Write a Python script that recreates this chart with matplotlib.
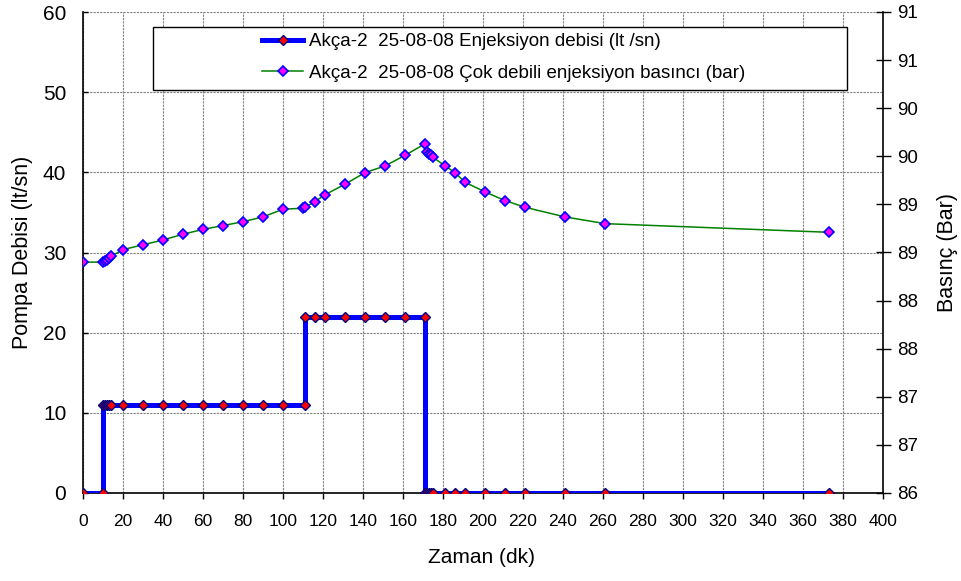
import math
import matplotlib
matplotlib.use("Agg")
import matplotlib.pyplot as plt
from matplotlib.ticker import MultipleLocator, FuncFormatter
from matplotlib.patches import Rectangle

plt.rcParams['font.family'] = ['Liberation Sans', 'DejaVu Sans']

# Injection flow (lt/sn) vs time (dk)
flow_t = [0, 10, 10, 11, 12, 13, 14, 20, 30, 40, 50, 60, 70, 80, 90, 100, 111,
          111, 116, 121, 131, 141, 151, 161, 171,
          171, 172, 173, 174, 175, 181, 186, 191, 201, 211, 221, 241, 261, 373]
flow_v = [0, 0, 11, 11, 11, 11, 11, 11, 11, 11, 11, 11, 11, 11, 11, 11, 11,
          22, 22, 22, 22, 22, 22, 22, 22,
          0, 0, 0, 0, 0, 0, 0, 0, 0, 0, 0, 0, 0, 0]

# Pressure (bar) vs time (dk)
pres_t = [0, 10, 11, 12, 13, 14, 20, 30, 40, 50, 60, 70, 80, 90, 100, 110, 111,
          116, 121, 131, 141, 151, 161, 171, 172, 173, 174, 175, 181, 186, 191,
          201, 211, 221, 241, 261, 373]
pres_v = [88.40, 88.40, 88.41, 88.42, 88.44, 88.46, 88.53, 88.58, 88.63, 88.69,
          88.74, 88.78, 88.82, 88.87, 88.95, 88.96, 88.97, 89.03, 89.10, 89.21,
          89.33, 89.40, 89.51, 89.63, 89.54, 89.52, 89.51, 89.49, 89.40, 89.33,
          89.23, 89.13, 89.04, 88.97, 88.87, 88.80, 88.71]

flow_label = "Akça-2  25-08-08 Enjeksiyon debisi (lt /sn)"
pres_label = "Akça-2  25-08-08 Çok debili enjeksiyon basıncı (bar)"

W, H = 961, 581
fig = plt.figure(figsize=(W / 100, H / 100), dpi=100)
L, R, T, B = 83, 883, 12, 493
ax = fig.add_axes([L / W, 1 - B / H, (R - L) / W, (B - T) / H])
ax2 = ax.twinx()

ax.set_xlim(0, 400)
ax.set_ylim(0, 60)
ax2.set_ylim(86, 91)

ax.xaxis.set_major_locator(MultipleLocator(20))
ax.yaxis.set_major_locator(MultipleLocator(10))
ax2.yaxis.set_major_locator(MultipleLocator(0.5))
ax2.yaxis.set_major_formatter(FuncFormatter(lambda v, p: f"{int(math.floor(v + 0.5 + 1e-9))}"))

grid_kw = dict(color='#7f7f7f', linestyle=(0, (2, 1)), linewidth=0.8)
ax.grid(True, which='major', **grid_kw)
ax.set_axisbelow(True)

(l1,) = ax.plot(flow_t, flow_v, color='#0000ff', linewidth=3.6, marker='D',
                markersize=5, markerfacecolor='#ff0000', markeredgecolor='#000080',
                markeredgewidth=1.0, label=flow_label, zorder=3)
(l2,) = ax2.plot(pres_t, pres_v, color='#008000', linewidth=1.1, marker='D',
                 markersize=5, markerfacecolor='#ff00ff', markeredgecolor='#0000ff',
                 markeredgewidth=1.2, label=pres_label, zorder=3)

for a in (ax, ax2):
    a.spines['top'].set_visible(False)
ax.spines['right'].set_visible(False)
ax2.spines['left'].set_visible(False)
ax2.spines['bottom'].set_visible(False)
for s in ('left', 'bottom'):
    ax.spines[s].set_linewidth(1.2)
ax2.spines['right'].set_linewidth(1.2)

ax.tick_params(axis='x', direction='out', length=4.3, width=1, labelsize=12.5, pad=11)
ax.tick_params(axis='y', direction='in', length=3.5, width=1, labelsize=15, pad=12)
ax2.tick_params(axis='y', direction='inout', length=10.8, width=1, labelsize=13.5, pad=5)

ax.set_xlabel("Zaman (dk)", fontsize=15)
ax.set_ylabel("Pompa Debisi (lt/sn)", fontsize=15.5)
ax2.set_ylabel("Basınç (Bar)", fontsize=15.5)
ax.xaxis.set_label_coords((481 - L) / (R - L), (B - 548) / (B - T))
ax.yaxis.set_label_coords((33 - L) / (R - L), (B - 252) / (B - T))
ax2.yaxis.set_label_coords((937 - L) / (R - L), (B - 252) / (B - T))

# Legend box
box = Rectangle((153 / W, 1 - 90 / H), (847 - 153) / W, (90 - 27) / H,
                transform=fig.transFigure, facecolor='white', edgecolor='black',
                linewidth=1.0, zorder=1)
fig.add_artist(box)
leg = fig.legend(handles=[l1, l2], loc='upper left',
                 bbox_to_anchor=(262 / W, 1 - 33 / H), frameon=False,
                 fontsize=13.5, borderpad=0, borderaxespad=0, handlelength=2.2,
                 handletextpad=0.3, labelspacing=0.78)
leg.set_zorder(5)

fig.savefig("out.png", dpi=100)
